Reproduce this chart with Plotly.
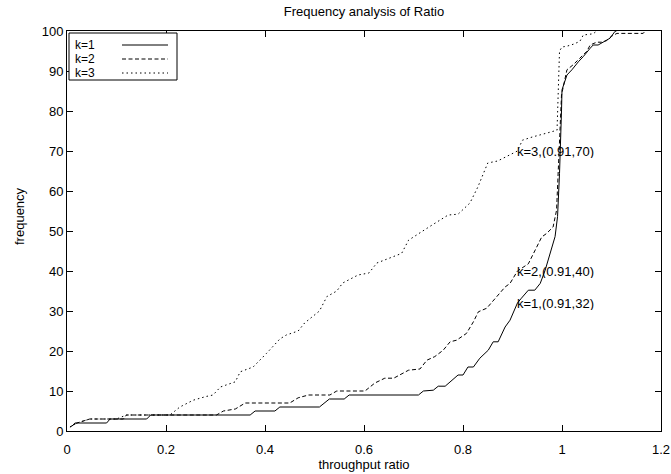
import plotly.graph_objects as go

# Cumulative frequency (%) against throughput ratio, one curve per k
k1_x = [0.01, 0.016, 0.08, 0.087, 0.161, 0.169, 0.37, 0.38, 0.42, 0.43, 0.51, 0.53,
        0.56, 0.57, 0.71, 0.72, 0.74, 0.75, 0.764, 0.79, 0.80, 0.81, 0.821, 0.834,
        0.851, 0.861, 0.871, 0.885, 0.895, 0.91, 0.918, 0.932, 0.945, 0.956, 0.966,
        0.972, 0.979, 0.986, 0.991, 0.995, 0.999, 1.0, 1.01, 1.02, 1.033, 1.043,
        1.057, 1.063, 1.073, 1.08, 1.09, 1.097, 1.107, 1.11]
k1_y = [1.2, 2, 2, 3, 3, 4, 4, 5, 5, 6, 6, 8,
        8, 9, 9, 10, 10.2, 11.2, 11.2, 14, 14, 16, 16, 18.2,
        20.2, 22.3, 22.3, 26, 27.7, 32, 33.2, 35.2, 35.2, 36.9, 40.2,
        42.7, 45.2, 48.6, 53.6, 64.4, 80, 85.3, 89, 90.3, 92.3, 93.6,
        95.7, 96.5, 96.5, 97, 97.8, 98.2, 99.9, 100]

k2_x = [0.006, 0.02, 0.046, 0.114, 0.12, 0.302, 0.316, 0.34, 0.36, 0.45, 0.467,
        0.488, 0.531, 0.545, 0.602, 0.622, 0.642, 0.66, 0.69, 0.713, 0.727, 0.743,
        0.76, 0.774, 0.787, 0.807, 0.821, 0.831, 0.848, 0.865, 0.875, 0.885, 0.895,
        0.91, 0.932, 0.945, 0.959, 0.969, 0.982, 0.989, 0.993, 0.999, 1.01, 1.023,
        1.036, 1.05, 1.057, 1.07, 1.08, 1.09, 1.1, 1.111, 1.164, 1.168]
k2_y = [1, 2, 3, 3, 4, 4, 5, 5.5, 7, 7, 8.3,
        9, 9, 10, 10, 12, 13.2, 13.2, 15.2, 15.5, 17.7, 18.6,
        20.2, 22.3, 22.7, 24.4, 27.3, 29.8, 30.7, 33.2, 34.4, 36, 36.9,
        40, 41.8, 45.2, 48.5, 49.4, 51, 55.2, 67.7, 84, 90.3, 91.6,
        93.2, 94.9, 96.5, 97.2, 97.2, 97.6, 98.7, 99.4, 99.4, 100]

k3_x = [0.006, 0.02, 0.046, 0.1, 0.12, 0.208, 0.228, 0.255, 0.28, 0.295, 0.31,
        0.34, 0.35, 0.376, 0.403, 0.43, 0.443, 0.467, 0.48, 0.51, 0.525, 0.545,
        0.557, 0.588, 0.61, 0.626, 0.676, 0.69, 0.73, 0.77, 0.79, 0.814, 0.83,
        0.85, 0.87, 0.91, 0.92, 0.94, 0.97, 0.99, 0.995, 1.0, 1.01, 1.023, 1.036,
        1.043, 1.063, 1.07]
k3_y = [1, 2, 3, 3, 4, 4, 6, 7.7, 8.6, 9, 11,
        12.3, 14.8, 16, 19.4, 23, 24, 25, 27, 30, 33.6, 35,
        37, 39, 39.5, 42, 44.4, 47.7, 50.9, 54, 54.2, 57, 61,
        67, 67.5, 70, 72.7, 73.5, 74.5, 75.2, 95, 96, 96.2, 96.7, 97.4,
        99, 99.3, 100]

series_names = ["k=1", "k=2", "k=3"]
series_x = [k1_x, k2_x, k3_x]
series_y = [k1_y, k2_y, k3_y]
series_dash = ["solid", "4px,2.5px", "1.5px,3px"]

# Point labels placed on the curves
label_k = [3, 2, 1]
label_x = [0.91, 0.91, 0.91]
label_y = [70, 40, 32]

x_ticks = [0, 0.2, 0.4, 0.6, 0.8, 1.0, 1.2]
x_tick_text = ["0", "0.2", "0.4", "0.6", "0.8", "1", "1.2"]
y_ticks = [0, 10, 20, 30, 40, 50, 60, 70, 80, 90, 100]

FONT = "Liberation Sans, Arial, sans-serif"
W, H = 671, 474
L, R, T, B = 67, 10, 31, 43

fig = go.Figure()
for name, xs, ys, dash in zip(series_names, series_x, series_y, series_dash):
    fig.add_trace(go.Scatter(
        x=xs, y=ys, mode="lines", name=name, showlegend=False,
        line=dict(color="black", width=1, dash=dash),
    ))

annotations = []
for k, lx, ly in zip(label_k, label_x, label_y):
    annotations.append(dict(
        x=lx, y=ly, xref="x", yref="y", text=f"k={k},({lx},{ly})",
        showarrow=False, xanchor="left", yanchor="middle", xshift=-2,
        height=14, valign="middle",
        font=dict(family=FONT, size=13, color="black"),
    ))

# Key box in the upper-left corner: labels on the left, line samples on the right
plot_w = W - L - R
plot_h = H - T - B


def px_x(p):
    return (p - L) / plot_w


def px_y(p):
    return (H - B - p) / plot_h


shapes = [dict(type="rect", xref="paper", yref="paper",
               x0=px_x(69), x1=px_x(177), y0=px_y(80), y1=px_y(33),
               line=dict(color="black", width=1), fillcolor="white", layer="above")]
row_y = [45, 59, 73]
for name, dash, ry in zip(series_names, series_dash, row_y):
    annotations.append(dict(
        x=px_x(73), y=px_y(ry), xref="paper", yref="paper", text=name,
        showarrow=False, xanchor="left", yanchor="middle",
        height=12, valign="middle",
        font=dict(family=FONT, size=12, color="black"),
    ))
    shapes.append(dict(type="line", xref="paper", yref="paper",
                       x0=px_x(122), x1=px_x(168), y0=px_y(ry), y1=px_y(ry),
                       line=dict(color="black", width=1, dash=dash), layer="above"))

# Rotated y-axis caption
annotations.append(dict(
    x=px_x(19), y=px_y(216), xref="paper", yref="paper", text="frequency",
    textangle=-90, showarrow=False, xanchor="center", yanchor="middle",
    font=dict(family=FONT, size=13, color="black"),
))

axis_common = dict(
    showline=True, linecolor="black", linewidth=1, mirror="ticks",
    ticks="inside", ticklen=6, tickcolor="black", tickwidth=1,
    showgrid=False, zeroline=False,
    tickfont=dict(family=FONT, size=13, color="black"),
)

fig.update_layout(
    width=W, height=H,
    margin=dict(l=L, r=R, t=T, b=B),
    paper_bgcolor="white", plot_bgcolor="white",
    title=dict(text="Frequency analysis of Ratio", x=364 / W,
               xanchor="center", y=1 - 11 / H, yanchor="middle", yref="container",
               font=dict(family=FONT, size=13, color="black")),
    xaxis=dict(range=[0, 1.2], tickvals=x_ticks, ticktext=x_tick_text,
               ticklabelstandoff=6,
               title=dict(text="throughput ratio", standoff=4,
                          font=dict(family=FONT, size=13, color="black")),
               automargin=False, **axis_common),
    yaxis=dict(range=[0, 100], tickvals=y_ticks, automargin=False, **axis_common),
    annotations=annotations,
    shapes=shapes,
    showlegend=False,
)

fig.write_html("out.html")
